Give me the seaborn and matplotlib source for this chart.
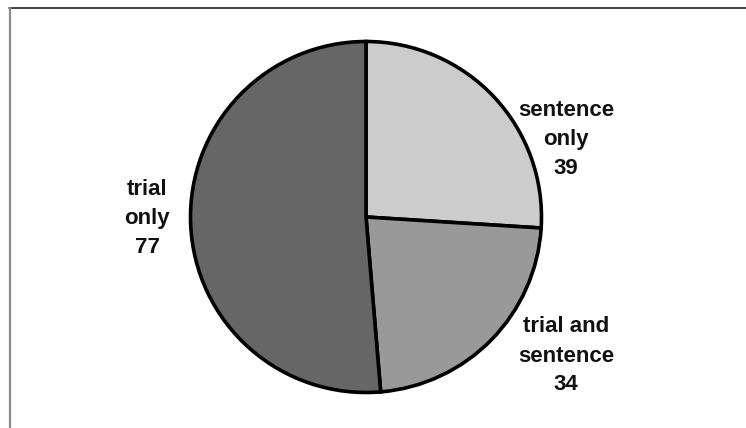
import matplotlib
matplotlib.use("Agg")
import matplotlib.pyplot as plt
from matplotlib.lines import Line2D
import seaborn as sns

# Counts per category, drawn clockwise from 12 o'clock
categories = ["sentence\nonly", "trial and\nsentence", "trial\nonly"]
counts = [39, 34, 77]
colors = ["#cccccc", "#999999", "#666666"]

# Label anchor points (pixel coordinates, origin bottom-left)
label_x = [566, 566, 147]
label_y = [289, 72, 210]

sns.set_theme(style="white")
plt.rcParams["font.family"] = ["Liberation Sans", "DejaVu Sans"]

W, H = 746, 428
fig = plt.figure(figsize=(W / 100, H / 100), dpi=100)
fig.patch.set_facecolor("white")
ax = fig.add_axes([0, 0, 1, 1])

ax.pie(
    counts,
    colors=colors,
    startangle=90,
    counterclock=False,
    center=(366, 211),
    radius=175.5,
    wedgeprops=dict(edgecolor="black", linewidth=2.6),
    frame=True,
)
ax.set_xlim(0, W)
ax.set_ylim(0, H)
ax.set_aspect("equal")
ax.axis("off")

for name, n, x, y in zip(categories, counts, label_x, label_y):
    ax.text(x, y, f"{name}\n{n}", ha="center", va="center",
            fontsize=16, fontweight="bold", color="#111111",
            linespacing=1.5)

# Thin frame along the top and left edges
fig.add_artist(Line2D([9 / W, 1], [1 - 8 / H, 1 - 8 / H],
                      transform=fig.transFigure, color="#222222", lw=1.2))
fig.add_artist(Line2D([10 / W, 10 / W], [0, 1 - 8 / H],
                      transform=fig.transFigure, color="#8a8a8a", lw=1.6))

fig.savefig("out.png", dpi=100, facecolor="white")
